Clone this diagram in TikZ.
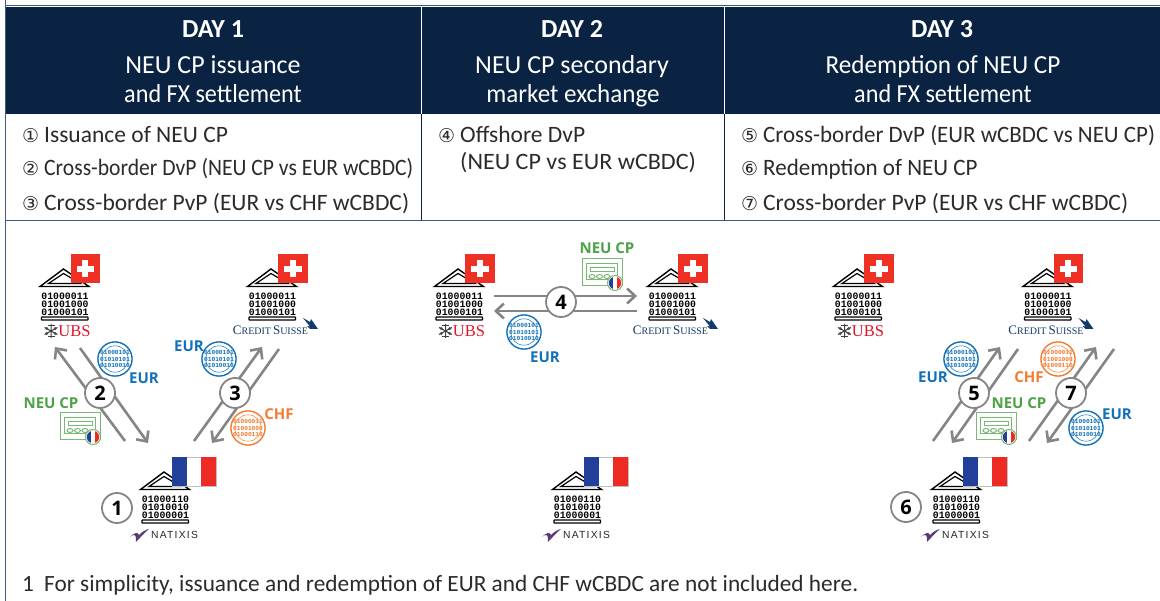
\documentclass[tikz,border=0pt]{standalone}
\usepackage{fontspec}
\setmainfont{Carlito}
\newfontfamily\circfont{DejaVu Sans}
\newfontfamily\labfont{Open Sans}
\newfontfamily\binfont{Liberation Mono}
\newfontfamily\serfont{Liberation Serif}
\newfontfamily\natfont[LetterSpace=12]{Liberation Sans}
\usetikzlibrary{arrows.meta}
\definecolor{navy}{HTML}{0A2342}
\definecolor{rulec}{HTML}{3E5A7E}
\definecolor{txt}{HTML}{2B2B2B}
\definecolor{blueT}{HTML}{1272B8}
\definecolor{greenT}{HTML}{4BA345}
\definecolor{greenL}{HTML}{79B975}
\definecolor{orangeT}{HTML}{F47B30}
\definecolor{flowg}{HTML}{858585}
\definecolor{chred}{HTML}{EE3124}
\definecolor{frblue}{HTML}{22409A}
\definecolor{frred}{HTML}{EE2A24}
\definecolor{ubsred}{HTML}{E3142D}
\definecolor{csblue}{HTML}{123A6B}
\definecolor{natp}{HTML}{5B3A78}
\tikzset{
  head/.style={text=white,anchor=base,inner sep=0pt,font=\fontsize{26}{26}\selectfont},
  headb/.style={head,font=\fontsize{26}{26}\selectfont\bfseries},
  item/.style={text=txt,anchor=base west,inner sep=0pt,font=\fontsize{23.5}{23.5}\selectfont},
  note/.style={text=txt,anchor=base west,inner sep=0pt,font=\fontsize{23.3}{23.3}\selectfont},
  flow/.style={draw=flowg,line width=2.6pt,-{Straight Barb[length=8pt,width=15pt,line width=2.6pt]}},
  stepc/.style={circle,draw=flowg,line width=1.8pt,fill=white,minimum size=30pt,inner sep=0pt,text=black,font=\labfont\fontsize{20}{20}\selectfont\bfseries},
  lab/.style={inner sep=0pt,font=\labfont\fontsize{15}{15}\selectfont\bfseries},
  bin/.style={inner sep=0pt,align=center,text=black,font=\binfont\fontsize{9.8}{8}\selectfont\bfseries},
  coinc/.style={circle,draw=#1,line width=1.4pt,fill=white,minimum size=30pt,inner sep=0pt,align=center,text=#1,font=\binfont\fontsize{6.2}{6.3}\selectfont\bfseries},
}
\newcommand{\chflag}[2]{%
  \fill[chred] (#1,#2) rectangle ++(29.5,29);
  \fill[white] (#1+6,#2+11.7) rectangle ++(17.5,6);
  \fill[white] (#1+11.8,#2+5.8) rectangle ++(6,17.5);}
\newcommand{\frflag}[2]{%
  \fill[white] (#1,#2) rectangle ++(44,29);
  \draw[black!25,line width=.5pt] (#1,#2) rectangle ++(44,29);
  \fill[frblue] (#1,#2) rectangle ++(15,29);
  \fill[frred] (#1+29,#2) rectangle ++(15,29);}
% name, centre x, apex y, three binary lines
\newcommand{\bankicon}[6]{%
  \begin{scope}[shift={(#2,#3)}]
    \draw[black,line width=1.4pt,line join=miter,fill=white] (-24.5,17.5) -- (-1,0) -- (24.5,17.5) -- cycle;
    \draw[black,line width=1.2pt,fill=white] (-16,14.5) -- (-1,4.5) -- (16,14.5) -- cycle;
    \node[bin] (#1) at (0.5,35) {#4\\#5\\#6};
    \draw[black,line width=1.1pt,fill=white,rounded corners=.5pt] (-23,48) rectangle (23.5,51);
  \end{scope}}
\newcommand{\ubsbank}[2]{%
  \bankicon{#1}{#2}{269}{01000011}{01001000}{01000101}%
  \chflag{#2+6}{254}
  \begin{scope}[shift={(#2-13.5,331)},draw=black!75,line width=1pt]
    \draw (-6.5,-3.5) -- (6.5,3.5) (-6.5,3.5) -- (6.5,-3.5) (0,-7) -- (0,7);
    \draw (-3.5,-5.5) -- (3.5,-5.5) (-3.5,5.5) -- (3.5,5.5);
    \fill[black!70] (-4.2,-2.5) circle (1.6) (4.2,-2.5) circle (1.6) (-4.2,2.5) circle (1.6) (4.2,2.5) circle (1.6);
  \end{scope}
  \node[inner sep=0pt,text=ubsred,font=\serfont\fontsize{16.5}{16.5}\selectfont] (#1l) at (#2+8+2,331) {UBS};}
\newcommand{\csbank}[2]{%
  \bankicon{#1}{#2}{269}{01000011}{01001000}{01000101}%
  \chflag{#2+6}{254}
  \node[inner sep=0pt,anchor=base,text=csblue,font=\serfont\fontsize{13}{13}\selectfont] (#1l) at (#2-1.5,335) {C\fontsize{10}{10}\selectfont REDIT\hspace{2pt}\fontsize{13}{13}\selectfont S\fontsize{10}{10}\selectfont UISSE};
  \fill[csblue] (#2+31,318) -- (#2+38,322) -- (#2+39,319) -- (#2+46,329) -- (#2+38,329) -- (#2+35,326) -- (#2+38,326.5) -- cycle;}
\newcommand{\natbank}[2]{%
  \bankicon{#1}{#2}{472}{01000110}{01010010}{01000001}%
  \frflag{#2+7}{457}
  \fill[natp] (#2-35,537) .. controls (#2-30,532) and (#2-27,532) .. (#2-26,535) .. controls (#2-23,532) and (#2-20,530) .. (#2-16,529) .. controls (#2-21,533) and (#2-25,538) .. (#2-29,542) .. controls (#2-29,538) and (#2-29,535) .. (#2-31,535) .. controls (#2-33,535) and (#2-34,536) .. (#2-35,537) -- cycle;
  \node[inner sep=0pt,anchor=west,text=black!85,font=\natfont\fontsize{10.3}{10.3}\selectfont] (#1l) at (#2-14,535) {NATIXIS};}
% name, left, top
\newcommand{\docicon}[3]{%
  \begin{scope}[shift={(#2,#3)},draw=greenL,line width=1pt]
    \draw (0,0) -- (40,0) -- (40,27) -- (0,27) -- cycle;
    \draw (4.5,5) -- (35.5,5) -- (35.5,21) -- (4.5,21) -- cycle;
    \draw (8,8.5) rectangle (32,13);
    \draw (10,17.5) ellipse (3 and 2) (17.5,17.5) ellipse (3 and 2) (25,17.5) ellipse (3 and 2);
    \node[circle,draw=greenL,line width=1pt,fill=white,minimum size=15pt,inner sep=0pt] (#1) at (33,24) {};
    \begin{scope}
      \clip (33,24) circle (6.2);
      \fill[frblue] (26,17) rectangle (31,31);
      \fill[frred] (35,17) rectangle (40,31);
    \end{scope}
  \end{scope}}
\newcommand{\ecoin}[3]{\node[coinc=blueT] (#1) at (#2,#3) {01000101\\01010101\\01010010};\draw[blueT,line width=.5pt] (#1.center) circle (13.2);}
\newcommand{\ccoin}[3]{\node[coinc=orangeT] (#1) at (#2,#3) {01000011\\01001000\\01000110};\draw[orangeT,line width=.5pt] (#1.center) circle (13.2);}
\newcommand{\sx}[2]{\scalebox{#1}[1]{#2}}
\begin{document}
\begin{tikzpicture}[x=1pt,y=-1pt]
\useasboundingbox (0,0) rectangle (1160,601);
\fill[white] (0,0) rectangle (1160,601);
% frame and header
\fill[navy] (5,7) rectangle (1160,114.5);
\draw[rulec,line width=1pt] (5,5.8) -- (1160,5.8);
\draw[rulec,line width=1pt] (5.5,0) -- (5.5,601);
\draw[rulec,line width=1.2pt] (5,220.5) -- (1160,220.5);
\draw[white,line width=.8pt] (421.5,7) -- (421.5,114.5) (724,7) -- (724,114.5);
\draw[navy,line width=1pt] (421.5,114.5) -- (421.5,220.5) (724,114.5) -- (724,220.5);
% headers
\node[headb] (h1a) at (213,38) {DAY 1};
\node[head] (h1b) at (213,74) {NEU CP issuance};
\node[head] (h1c) at (213,103) {\sx{0.93}{and FX settlement}};
\node[headb] (h2a) at (572,38) {DAY 2};
\node[head] (h2b) at (572,74) {NEU CP secondary};
\node[head] (h2c) at (573,103) {\sx{0.965}{market exchange}};
\node[headb] (h3a) at (942,38) {DAY 3};
\node[head] (h3b) at (943,74) {\sx{0.97}{Redemption of NEU CP}};
\node[head] (h3c) at (943,103) {\sx{0.93}{and FX settlement}};
% lists
\newcommand{\cn}[1]{\makebox[22pt][l]{\circfont\fontsize{19}{19}\selectfont #1}}
\node[item] (i1) at (22,143) {\cn{①}Issuance of NEU CP};
\node[item] (i2) at (22,176) {\cn{②}\sx{0.92}{Cross-border DvP (NEU CP vs EUR wCBDC)}};
\node[item] (i3) at (22,211) {\cn{③}Cross-border PvP (EUR vs CHF wCBDC)};
\node[item] (i4) at (438,143) {\cn{④}Offshore DvP};
\node[item] (i4b) at (460,170) {\sx{1.025}{(NEU CP vs EUR wCBDC)}};
\node[item] (i5) at (741,143) {\cn{⑤}\sx{0.977}{Cross-border DvP (EUR wCBDC vs NEU CP)}};
\node[item] (i6) at (741,176) {\cn{⑥}\sx{0.98}{Redemption of NEU CP}};
\node[item] (i7) at (741,211) {\cn{⑦}Cross-border PvP (EUR vs CHF wCBDC)};
\node[note] (fn) at (22,591) {\makebox[22pt][l]{1}For simplicity, issuance and redemption of EUR and CHF wCBDC are not included here.};
% banks
\ubsbank{ubsA}{64.5}
\csbank{csA}{272}
\natbank{natA}{165}
\ubsbank{ubsB}{459}
\csbank{csB}{672}
\natbank{natB}{577}
\ubsbank{ubsC}{858}
\csbank{csC}{1047.5}
\natbank{natC}{956}
% connector ends
\coordinate (a2s) at (125,441); \coordinate (a2e) at (55,347);
\coordinate (b2s) at (80,348); \coordinate (b2e) at (148,443);
\coordinate (a3s) at (194,441); \coordinate (a3e) at (262,347);
\coordinate (b3s) at (279,349); \coordinate (b3e) at (212,443);
\coordinate (a4s) at (494,296); \coordinate (a4e) at (637,296);
\coordinate (b4s) at (637,311); \coordinate (b4e) at (494,311);
\coordinate (a5s) at (933,441); \coordinate (a5e) at (1000,347);
\coordinate (b5s) at (1018,349); \coordinate (b5e) at (952,443);
\coordinate (a7s) at (1029,441); \coordinate (a7e) at (1096,347);
\coordinate (b7s) at (1114,349); \coordinate (b7e) at (1047,443);
\foreach \n in {a2,b2,a3,b3,a4,b4,a5,b5,a7,b7} \draw[flow] (\n s) -- (\n e);
% step circles
\node[stepc] (s1) at (117,508) {1};
\node[stepc] (s2) at (100,393) {2};
\node[stepc] (s3) at (235,393) {3};
\node[stepc] (s4) at (561,302) {4};
\node[stepc] (s5) at (974,393) {5};
\node[stepc] (s6) at (906,507) {6};
\node[stepc] (s7) at (1071,393) {7};
% tokens day 1
\ecoin{c1}{115}{359}
\node[lab,text=blueT] (l1) at (144,378) {EUR};
\ecoin{c2}{219}{359}
\node[lab,text=blueT] (l2) at (189,346) {EUR};
\ccoin{c3}{248}{428}
\node[lab,text=orangeT] (l3) at (279,414) {CHF};
\node[lab,text=greenT] (l4) at (51,403) {NEU CP};
\docicon{d1}{60}{413}
% tokens day 2
\node[lab,text=greenT] (l5) at (607,248) {NEU CP};
\docicon{d2}{582}{259}
\ecoin{c4}{524}{332}
\node[lab,text=blueT] (l6) at (545,357) {EUR};
% tokens day 3
\ecoin{c5}{961}{359}
\node[lab,text=blueT] (l7) at (933,377) {EUR};
\ccoin{c6}{1058}{359}
\node[lab,text=orangeT] (l8) at (1029,377) {CHF};
\node[lab,text=greenT] (l9) at (1019,403) {NEU CP};
\docicon{d3}{976}{413}
\ecoin{c7}{1086}{428}
\node[lab,text=blueT] (l10) at (1117,414) {EUR};
\end{tikzpicture}
\end{document}
